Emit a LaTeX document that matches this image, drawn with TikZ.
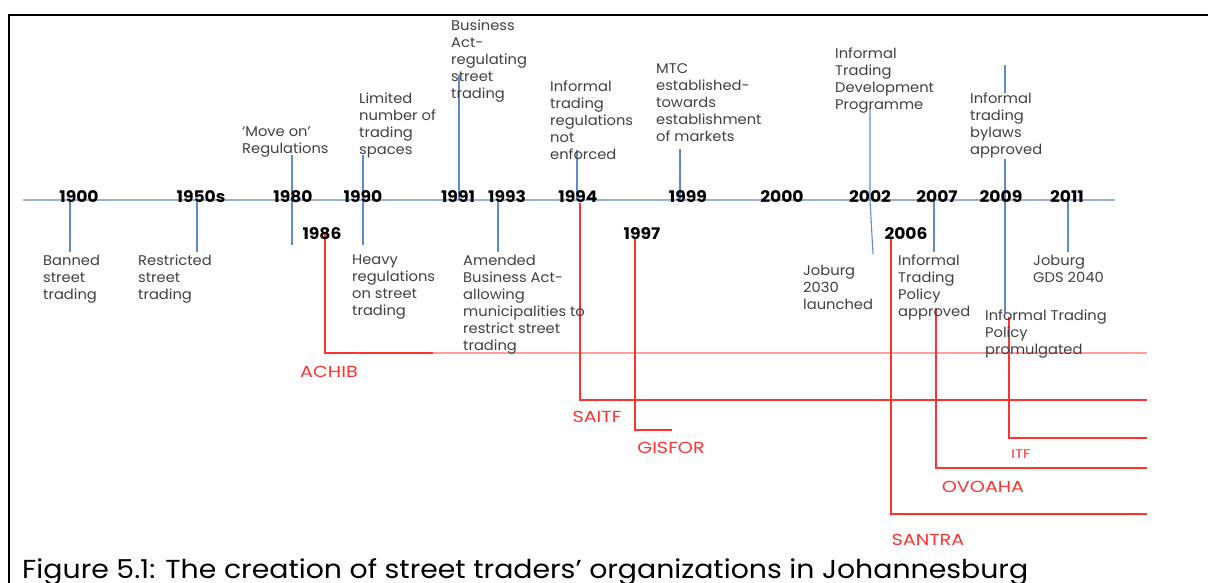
\documentclass[tikz,border=0pt]{standalone}
\usepackage{fontspec}
\setmainfont{Poppins}
\newfontfamily\bodyfont[FakeStretch=1.05]{Poppins}
\newfontfamily\yearfont[FakeStretch=1.07]{Poppins}
\newfontfamily\orgfont[FakeStretch=1.2]{Poppins}
\newfontfamily\capfont[FakeStretch=1.09]{Poppins}
\definecolor{axisblue}{RGB}{149,179,215}
\definecolor{tickblue}{RGB}{95,140,200}
\definecolor{txtgray}{RGB}{64,64,64}
\definecolor{orgred}{RGB}{255,50,50}
\definecolor{lightred}{RGB}{255,160,160}
\tikzset{
  txt/.style={anchor=north west, inner sep=0pt, align=left, text=txtgray,
    font=\bodyfont\fontsize{14}{17}\selectfont},
  yr/.style={anchor=base, inner sep=0pt, font=\yearfont\fontsize{16}{18}\selectfont\bfseries},
  tickline/.style={draw=tickblue, line width=1.1pt},
  axisline/.style={draw=axisblue, line width=1.6pt},
  orgline/.style={draw=orgred, line width=1.2pt},
  orglabel/.style={anchor=base, inner sep=0pt, text=orgred, font=\orgfont\fontsize{16}{18}\selectfont},
}
\begin{document}
\begin{tikzpicture}[x=1pt,y=-1pt]
\useasboundingbox (0,0) rectangle (1208,583);
% frame
\coordinate (fbl) at (9,583);
\coordinate (ftl) at (9,15);
\coordinate (ftr) at (1208,15);
\draw[line width=2.2pt] (fbl) -- (ftl) -- (ftr);
% axis
\coordinate (axL) at (23,200);
\coordinate (axR) at (1115,200);
\draw[axisline] (axL) -- (axR);
% tick coordinates
\coordinate (k1900a) at (70,200);   \coordinate (k1900b) at (70,252);
\coordinate (k1950a) at (197,200);  \coordinate (k1950b) at (197,252);
\coordinate (k1980a) at (292,155);  \coordinate (k1980b) at (292,245);
\coordinate (k1990a) at (363,155);  \coordinate (k1990b) at (363,245);
\coordinate (k1991a) at (459,75);   \coordinate (k1991b) at (459,200);
\coordinate (k1993a) at (498,200);  \coordinate (k1993b) at (498,252);
\coordinate (k1994a) at (577,150);  \coordinate (k1994b) at (577,200);
\coordinate (k1999a) at (680,149);  \coordinate (k1999b) at (680,200);
\coordinate (k2002a) at (870,108);  \coordinate (k2002m) at (870,200); \coordinate (k2002b) at (873,254);
\coordinate (k2007a) at (934,200);  \coordinate (k2007b) at (934,252);
\coordinate (k2009a) at (1005,65);  \coordinate (k2009b) at (1005,313);
\coordinate (k2011a) at (1068,200); \coordinate (k2011b) at (1068,252);
\draw[tickline] (k1900a) -- (k1900b);
\draw[tickline] (k1950a) -- (k1950b);
\draw[tickline] (k1980a) -- (k1980b);
\draw[tickline] (k1990a) -- (k1990b);
\draw[tickline] (k1991a) -- (k1991b);
\draw[tickline] (k1993a) -- (k1993b);
\draw[tickline] (k1994a) -- (k1994b);
\draw[tickline] (k1999a) -- (k1999b);
\draw[tickline] (k2002a) -- (k2002m) -- (k2002b);
\draw[tickline] (k2007a) -- (k2007b);
\draw[tickline] (k2009a) -- (k2009b);
\draw[tickline] (k2011a) -- (k2011b);
% organisation lines
\coordinate (r1986a) at (325,233); \coordinate (r1986b) at (325,353); \coordinate (r1986c) at (433,353); \coordinate (r1986d) at (1147,353);
\coordinate (r1994a) at (580,203); \coordinate (r1994b) at (580,400); \coordinate (r1994c) at (1147,400);
\coordinate (r1997a) at (635,237); \coordinate (r1997b) at (635,430); \coordinate (r1997c) at (672,430);
\coordinate (r2006a) at (891,239); \coordinate (r2006b) at (891,514); \coordinate (r2006c) at (1147,514);
\coordinate (r2007a) at (936,308); \coordinate (r2007b) at (936,468); \coordinate (r2007c) at (1147,468);
\coordinate (r2009a) at (1009,317); \coordinate (r2009b) at (1009,438); \coordinate (r2009c) at (1147,438);
\draw[orgline] (r1986a) -- (r1986b) -- (r1986c);
\draw[draw=lightred, line width=1.2pt] (r1986c) -- (r1986d);
\draw[orgline] (r1994a) -- (r1994b) -- (r1994c);
\draw[orgline] (r1997a) -- (r1997b) -- (r1997c);
\draw[orgline] (r2006a) -- (r2006b) -- (r2006c);
\draw[orgline] (r2007a) -- (r2007b) -- (r2007c);
\draw[orgline] (r2009a) -- (r2009b) -- (r2009c);
% years
\node[yr] (y1900) at (79,202) {1900};
\node[yr] (y1950) at (201,202) {1950s};
\node[yr] (y1980) at (293,202) {1980};
\node[yr] (y1990) at (363,202) {1990};
\node[yr] (y1991) at (458,202) {1991};
\node[yr] (y1993) at (507,202) {1993};
\node[yr] (y1994) at (578,202) {1994};
\node[yr] (y1999) at (688,202) {1999};
\node[yr] (y2000) at (782,202) {2000};
\node[yr] (y2002) at (870,202) {2002};
\node[yr] (y2007) at (937,202) {2007};
\node[yr] (y2009) at (1001,202) {2009};
\node[yr] (y2011) at (1067,202) {2011};
\node[yr] (y1986) at (322,239) {1986};
\node[yr] (y1997) at (642,239) {1997};
\node[yr] (y2006) at (906,239) {2006};
% upper texts
\node[txt] (moveon) at (242,127) {‘Move on’\\Regulations};
\node[txt] (limited) at (359,93) {Limited\\number of\\trading\\spaces};
\node[txt] (business) at (451,20) {Business\\Act-\\regulating\\street\\trading};
\node[txt] (inf94) at (550,81) {Informal\\trading\\regulations\\not\\enforced};
\node[txt] (mtc) at (656,63) {MTC\\established-\\towards\\establishment\\of markets};
\node[txt] (itdp) at (835,48) {Informal\\Trading\\Development\\Programme};
\node[txt, fill=white] (bylaws) at (970,93) {Informal\\trading\\bylaws\\approved};
% lower texts
\node[txt] (banned) at (43,255) {Banned\\street\\trading};
\node[txt] (restricted) at (138,255) {Restricted\\street\\trading};
\node[txt] (heavy) at (352,255) {Heavy\\regulations\\on street\\trading};
\node[txt] (amended) at (463,255) {Amended\\Business Act-\\allowing\\municipalities to\\restrict street\\trading};
\node[txt] (jb2030) at (803,265) {Joburg\\2030\\launched};
\node[txt] (itpa) at (898,255) {Informal\\Trading\\Policy\\approved};
\node[txt] (gds) at (1033,255) {Joburg\\GDS 2040};
\node[txt] (itpp) at (985,310) {Informal Trading\\Policy\\promulgated};
% organisation labels
\node[orglabel] (achib) at (329,377) {ACHIB};
\node[orglabel] (saitf) at (597,422) {SAITF};
\node[orglabel] (gisfor) at (671,453) {GISFOR};
\node[orglabel] (santra) at (928,545) {SANTRA};
\node[orglabel] (ovoaha) at (983,492) {OVOAHA};
\node[orglabel, font=\orgfont\fontsize{12.5}{14}\selectfont] (itf) at (1021,458) {ITF};
% caption
\node[anchor=base west, inner sep=0pt, font=\capfont\fontsize{26}{30}\selectfont] (caption) at (22,578)
  {Figure 5.1: The creation of street traders’ organizations in Johannesburg};
\end{tikzpicture}
\end{document}
